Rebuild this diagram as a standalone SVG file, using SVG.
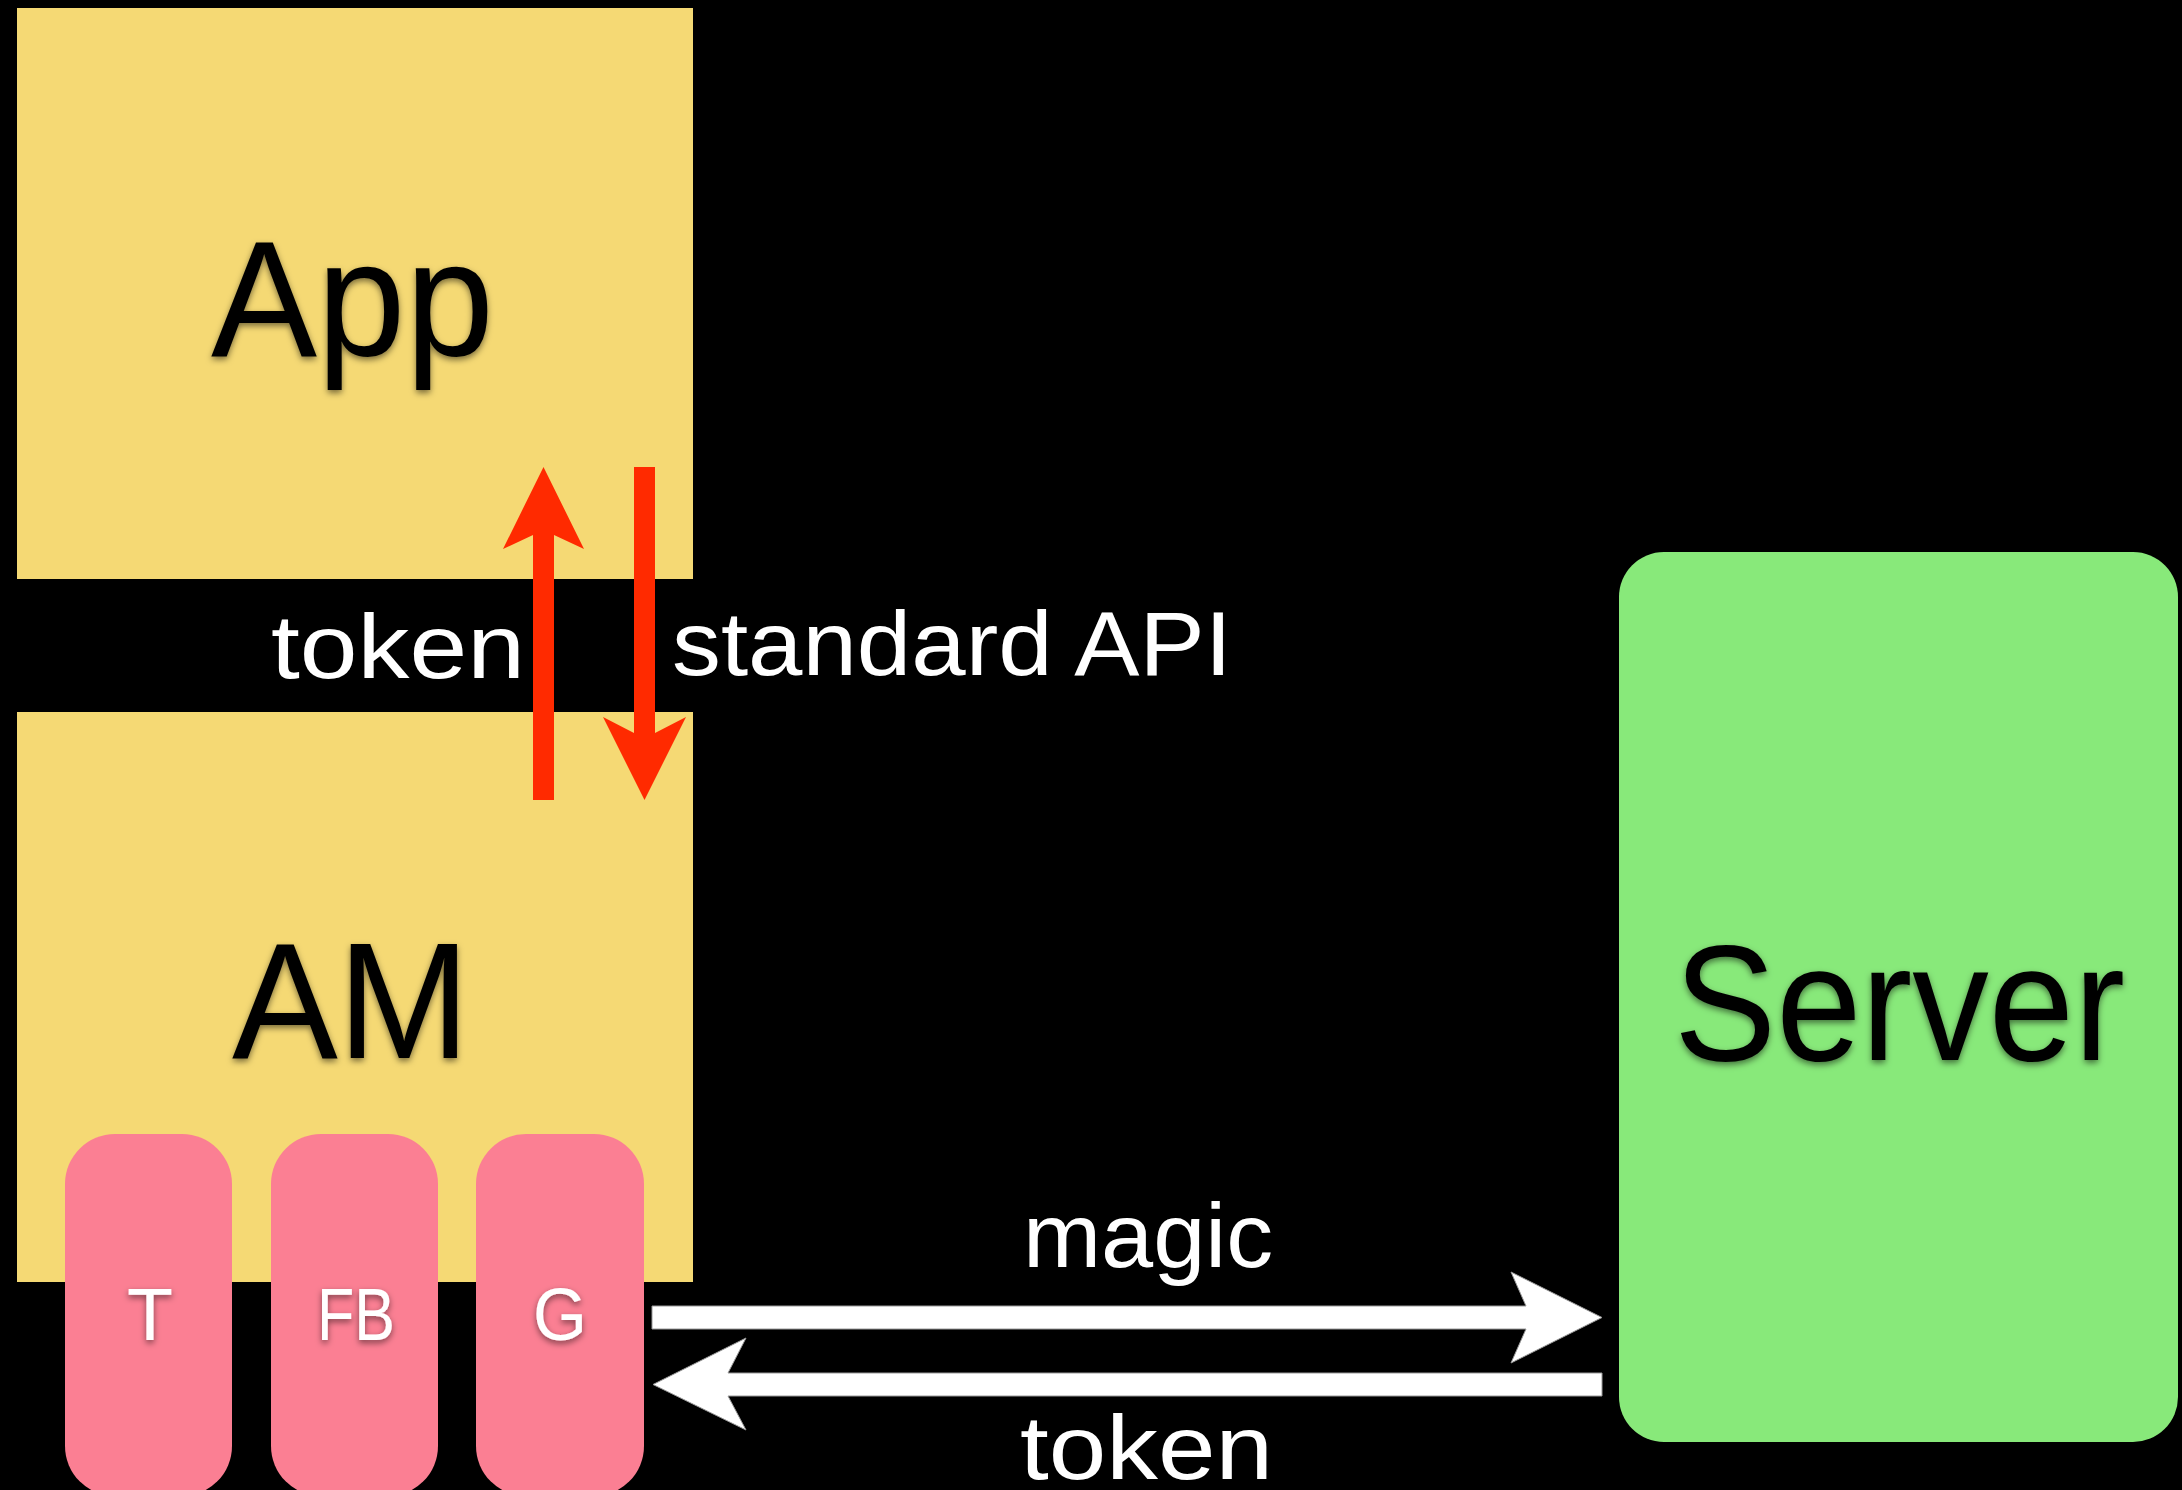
<svg xmlns="http://www.w3.org/2000/svg" width="2182" height="1490" viewBox="0 0 2182 1490">
<defs>
<style>
.yellow{fill:#F5D974}
.pink{fill:#FB7F93}
.green{fill:#88E97A}
.big{font-family:"Liberation Sans",Arial,sans-serif;font-size:166px;fill:#000}
.lbl{font-family:"Liberation Sans",Arial,sans-serif;font-size:91px;fill:#fff}
.pl{font-family:"Liberation Sans",Arial,sans-serif;font-size:74px;fill:#fff;text-anchor:middle}
.red{fill:#FF2A00}
.wh{fill:#fff;stroke:#999;stroke-width:1}
</style>
<filter id="sh" x="-20%" y="-20%" width="140%" height="140%">
<feDropShadow dx="0" dy="3" stdDeviation="3" flood-color="#000" flood-opacity="0.5"/>
</filter>
</defs>
<rect x="0" y="0" width="2182" height="1490" fill="#000"/>
<g id="app">
<rect class="yellow" x="17" y="8" width="676" height="571"/>
<text class="big" x="211" y="356" textLength="283" lengthAdjust="spacingAndGlyphs" filter="url(#sh)">App</text>
</g>
<g id="am">
<rect class="yellow" x="17" y="712" width="676" height="570"/>
<text class="big" x="232" y="1058" textLength="238" lengthAdjust="spacingAndGlyphs" filter="url(#sh)">AM</text>
</g>
<g id="server">
<rect class="green" x="1619" y="552" width="559" height="890" rx="45" ry="45"/>
<text class="big" x="1674" y="1060" textLength="451" lengthAdjust="spacingAndGlyphs" filter="url(#sh)">Server</text>
</g>
<g id="plugin-t">
<rect class="pink" x="65" y="1134" width="167" height="362" rx="50" ry="50"/>
<text class="pl" x="150" y="1340" textLength="46" lengthAdjust="spacingAndGlyphs" filter="url(#sh)">T</text>
</g>
<g id="plugin-fb">
<rect class="pink" x="271" y="1134" width="167" height="362" rx="50" ry="50"/>
<text class="pl" x="356" y="1340" textLength="78" lengthAdjust="spacingAndGlyphs" filter="url(#sh)">FB</text>
</g>
<g id="plugin-g">
<rect class="pink" x="476" y="1134" width="168" height="362" rx="50" ry="50"/>
<text class="pl" x="560" y="1340" textLength="54" lengthAdjust="spacingAndGlyphs" filter="url(#sh)">G</text>
</g>
<g id="connectors">
<polygon class="red" points="543.5,467 584,549 554,535 554,800 533,800 533,535 503,549"/>
<polygon class="red" points="634,467 655,467 655,733 686,717 644.5,800 603,717 634,733"/>
<polygon class="wh" points="652,1306 1526,1306 1511,1272 1602,1317.5 1511,1363 1526,1329 652,1329"/>
<polygon class="wh" points="653,1384.5 746,1338 728,1373 1602,1373 1602,1396 728,1396 746,1430"/>
<text class="lbl" x="271" y="678" textLength="254" lengthAdjust="spacingAndGlyphs">token</text>
<text class="lbl" x="672" y="675" textLength="560" lengthAdjust="spacingAndGlyphs">standard API</text>
<text class="lbl" x="1023" y="1267" textLength="250" lengthAdjust="spacingAndGlyphs">magic</text>
<text class="lbl" x="1020" y="1479" textLength="253" lengthAdjust="spacingAndGlyphs">token</text>
</g>
</svg>
